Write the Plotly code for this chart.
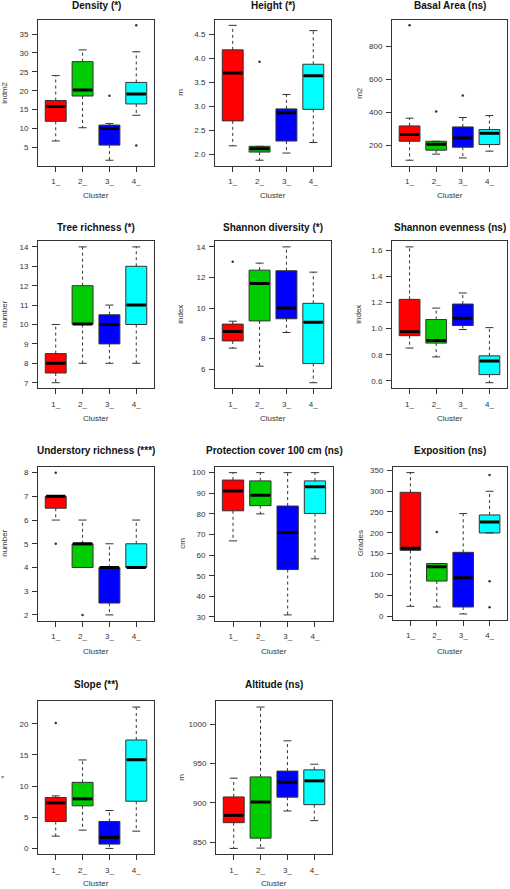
import plotly.graph_objects as go

W, H = 510, 889
clusters = ["1_", "2_", "3_", "4_"]
positions = [1, 2, 3, 4]
colors = ["#FF0000", "#00CD00", "#0000FF", "#00FFFF"]

# five-number summaries per cluster: [lower whisker, Q1, median, Q3, upper whisker]
density = [[6.7, 11.9, 15.8, 17.4, 24.0], [10.2, 18.6, 20.2, 27.7, 30.8],
           [1.6, 5.6, 10.0, 10.9, 11.3], [13.5, 16.5, 19.1, 22.2, 30.3]]
density_out_x = [3, 4, 4]
density_out_y = [18.7, 37.3, 5.5]

height = [[2.18, 2.70, 3.70, 4.18, 4.69], [1.88, 2.05, 2.12, 2.17, 2.17],
          [2.03, 2.28, 2.87, 2.95, 3.25], [2.25, 2.94, 3.64, 3.88, 4.58]]
height_out_x = [2]
height_out_y = [3.93]

basal = [[109, 224, 265, 317, 364], [146, 170, 206, 224, 224],
         [123, 188, 244, 311, 368], [164, 204, 273, 295, 380]]
basal_out_x = [1, 2, 3]
basal_out_y = [927, 404, 501]

tree = [[7, 7.5, 8, 8.5, 10], [8, 10, 10.02, 12, 14],
        [8, 9, 10, 10.5, 11], [8, 10, 11, 13, 14]]
tree_out_x = []
tree_out_y = []

shannon_div = [[7.38, 7.85, 8.46, 8.95, 9.14], [6.2, 9.16, 11.6, 12.48, 12.94],
               [8.4, 9.3, 10.0, 12.44, 14.0], [5.12, 6.37, 9.08, 10.31, 12.35]]
shannon_div_out_x = [1]
shannon_div_out_y = [13.03]

shannon_even = [[0.851, 0.946, 0.977, 1.225, 1.628], [0.783, 0.889, 0.91, 1.07, 1.158],
                [0.993, 1.024, 1.08, 1.189, 1.274], [0.585, 0.647, 0.752, 0.791, 1.008]]
shannon_even_out_x = []
shannon_even_out_y = []

understory = [[6, 6.5, 7, 7, 7], [4, 4, 5, 5, 6],
              [2, 2.5, 4, 4, 5], [4, 4, 4, 5, 6]]
understory_out_x = [1, 1, 2]
understory_out_y = [8, 5, 2]

protection = [[66.9, 81.5, 91.1, 96.4, 100], [80, 84, 89, 96, 100],
              [31, 53, 71, 83.8, 100], [58.2, 80.2, 93.2, 96, 100]]
protection_out_x = []
protection_out_y = []

exposition = [[23.3, 157.8, 162.7, 297, 344.4], [21.7, 84, 118.6, 126, 126],
              [5, 21.7, 92, 153, 246], [199.5, 199.5, 226, 242.7, 299.6]]
exposition_out_x = [2, 4, 4, 4]
exposition_out_y = [202, 338.8, 83.4, 20.8]

slope = [[1.97, 4.32, 7.31, 8.16, 8.43], [2.93, 6.83, 7.95, 10.6, 14.19],
         [0.0, 0.69, 1.76, 4.32, 6.08], [2.77, 7.57, 14.24, 17.39, 22.67]]
slope_out_x = [1]
slope_out_y = [20.1]

altitude = [[841.9, 874.7, 884, 907.5, 931.4], [842.3, 855, 901, 933, 1022],
            [889.6, 907.2, 926.3, 940.4, 979], [877.3, 897.7, 928, 942, 949.2]]
altitude_out_x = []
altitude_out_y = []

titles = ["Density (*)", "Height (*)", "Basal Area (ns)",
          "Tree richness (*)", "Shannon diversity (*)", "Shannon evenness (ns)",
          "Understory richness (***)", "Protection cover 100 cm (ns)", "Exposition (ns)",
          "Slope (**)", "Altitude (ns)"]
ylabels = ["indm2", "m", "m2", "number", "index", "index",
           "number", "cm", "Grades", "°", "m"]
yticks = [[5, 10, 15, 20, 25, 30, 35],
          [2.0, 2.5, 3.0, 3.5, 4.0, 4.5],
          [200, 400, 600, 800],
          [7, 8, 9, 10, 11, 12, 13, 14],
          [6, 8, 10, 12, 14],
          [0.6, 0.8, 1.0, 1.2, 1.4, 1.6],
          [2, 3, 4, 5, 6, 7, 8],
          [30, 40, 50, 60, 70, 80, 90, 100],
          [0, 50, 100, 150, 200, 250, 300, 350],
          [0, 5, 10, 15, 20],
          [850, 900, 950, 1000]]
ytickfmt = ["", ".1f", "", "", "", ".1f", "", "", "", "", ""]

stats = [density, height, basal, tree, shannon_div, shannon_even,
         understory, protection, exposition, slope, altitude]
outs = [(density_out_x, density_out_y), (height_out_x, height_out_y),
        (basal_out_x, basal_out_y), (tree_out_x, tree_out_y),
        (shannon_div_out_x, shannon_div_out_y), (shannon_even_out_x, shannon_even_out_y),
        (understory_out_x, understory_out_y), (protection_out_x, protection_out_y),
        (exposition_out_x, exposition_out_y), (slope_out_x, slope_out_y),
        (altitude_out_x, altitude_out_y)]

# layout frames in pixels: (left, right, top, bottom)
frames = [(38, 154, 19, 165), (215, 331, 19, 165), (392, 507, 19, 165),
          (38, 154, 241, 388), (215, 331, 241, 388), (392, 507, 241, 388),
          (38, 154, 467, 621), (215, 333, 467, 621), (393, 507, 467, 620),
          (38, 154, 702, 855), (216, 332, 702, 855)]
title_y = [5, 5, 5, 227, 227, 227, 451, 451, 451, 685, 685]
ylab_x = [5, 181, 360, 5, 181, 359, 5, 183, 360, 5, 182]
cluster_y = [195, 195, 195, 418, 418, 418, 652, 652, 652, 884, 884]

FONT = "Liberation Sans, Arial, sans-serif"
INK = "#333333"
BOXW = 0.78
CAP = 0.15

fig = go.Figure()
layout = dict(width=W, height=H, margin=dict(l=0, r=0, t=0, b=0),
              paper_bgcolor="white", plot_bgcolor="white", showlegend=False,
              font=dict(family=FONT, color=INK, size=8))
annotations = []

for i in range(11):
    n = i + 1
    xa = "x" if n == 1 else f"x{n}"
    ya = "y" if n == 1 else f"y{n}"
    l, r, t, b = frames[i]
    st = stats[i]
    ox, oy = outs[i]

    for c in range(4):
        lo, q1, med, q3, up = st[c]
        fig.add_trace(go.Box(x=[positions[c]], q1=[q1], median=[med], q3=[q3],
                             lowerfence=[q1], upperfence=[q3], width=BOXW,
                             fillcolor=colors[c], line=dict(color=INK, width=1),
                             whiskerwidth=0, boxpoints=False, hoverinfo="skip",
                             xaxis=xa, yaxis=ya))
        # dashed whiskers
        fig.add_trace(go.Scatter(x=[positions[c], positions[c], None, positions[c], positions[c]],
                                 y=[q3, up, None, q1, lo], mode="lines",
                                 line=dict(color=INK, width=1, dash="3px,3px"),
                                 hoverinfo="skip", xaxis=xa, yaxis=ya))
        # staples
        fig.add_trace(go.Scatter(x=[positions[c] - CAP, positions[c] + CAP, None,
                                    positions[c] - CAP, positions[c] + CAP],
                                 y=[up, up, None, lo, lo], mode="lines",
                                 line=dict(color=INK, width=1),
                                 hoverinfo="skip", xaxis=xa, yaxis=ya))
        # thick median
        fig.add_trace(go.Scatter(x=[positions[c] - BOXW / 2 + 0.03, positions[c] + BOXW / 2 - 0.03],
                                 y=[med, med], mode="lines",
                                 line=dict(color="black", width=3),
                                 hoverinfo="skip", xaxis=xa, yaxis=ya))
    if ox:
        fig.add_trace(go.Scatter(x=ox, y=oy, mode="markers",
                                 marker=dict(symbol="circle", size=2.5, color=INK),
                                 hoverinfo="skip", xaxis=xa, yaxis=ya))

    vals = [v for row in st for v in row] + list(oy)
    vmin, vmax = min(vals), max(vals)
    pad = 0.04 * (vmax - vmin)

    axis_common = dict(showline=True, linecolor=INK, linewidth=1, mirror=True,
                       showgrid=False, zeroline=False, ticks="outside", ticklen=5,
                       tickcolor=INK, tickwidth=1, tickfont=dict(size=8, color=INK, family=FONT))
    layout["xaxis" if n == 1 else f"xaxis{n}"] = dict(
        domain=[l / W, r / W], range=[0.34, 4.66], anchor=ya,
        tickmode="array", tickvals=positions, ticktext=clusters,
        ticklabelstandoff=3, fixedrange=True, **axis_common)
    layout["yaxis" if n == 1 else f"yaxis{n}"] = dict(
        domain=[1 - b / H, 1 - t / H], range=[vmin - pad, vmax + pad], anchor=xa,
        tickmode="array", tickvals=yticks[i], tickformat=ytickfmt[i],
        ticklabelstandoff=2, fixedrange=True, **axis_common)

    cx = (l + r) / 2
    annotations.append(dict(text=f"<b>{titles[i]}</b>", x=cx / W, y=1 - title_y[i] / H,
                            xref="paper", yref="paper", showarrow=False,
                            xanchor="center", yanchor="middle",
                            font=dict(size=10, color="#111111", family=FONT)))
    annotations.append(dict(text="Cluster", x=cx / W, y=1 - cluster_y[i] / H,
                            xref="paper", yref="paper", showarrow=False,
                            xanchor="center", yanchor="middle",
                            font=dict(size=8, color=INK, family=FONT)))
    annotations.append(dict(text=ylabels[i], x=ylab_x[i] / W, y=1 - ((t + b) / 2) / H,
                            xref="paper", yref="paper", showarrow=False, textangle=-90,
                            xanchor="center", yanchor="middle",
                            font=dict(size=8, color=INK, family=FONT)))

layout["annotations"] = annotations
fig.update_layout(**layout)
fig.write_html("out.html", config={"displayModeBar": False},
               post_script="document.body.style.margin='0';document.body.style.overflow='hidden';"
                           "document.documentElement.style.overflow='hidden';")
